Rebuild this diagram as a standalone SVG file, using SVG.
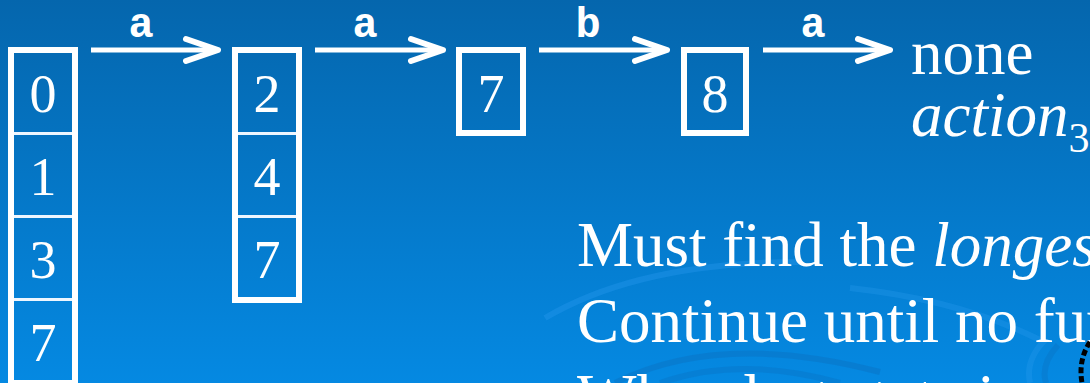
<svg xmlns="http://www.w3.org/2000/svg" width="1090" height="383" viewBox="0 0 1090 383">
<defs>
<linearGradient id="bg" x1="0" y1="0" x2="0" y2="1">
<stop offset="0" stop-color="#0566ad"/>
<stop offset="1" stop-color="#0589e2"/>
</linearGradient>
<marker id="ah" viewBox="0 0 40 30" refX="36" refY="15" markerWidth="40" markerHeight="30" markerUnits="userSpaceOnUse" orient="auto">
<polyline points="4,4 36,15 4,26" fill="none" stroke="#fff" stroke-width="6" stroke-linecap="round" stroke-linejoin="round"/>
</marker>
</defs>
<style>
.box{fill:none;stroke:#fff;stroke-width:6}
.div{stroke:#eef6ff;stroke-width:3}
.num{font-family:"Liberation Serif","Times New Roman",serif;font-size:54px;fill:#fff;text-anchor:middle}
.lbl{font-family:"Liberation Mono","Courier New",monospace;font-weight:bold;font-size:42px;fill:#fff;text-anchor:middle}
.edge{stroke:#fff;stroke-width:5;fill:none;marker-end:url(#ah)}
.txt{font-family:"Liberation Serif","Times New Roman",serif;font-size:63px;fill:#fff}
.arc{fill:none;stroke-width:6}
</style>
<rect width="1090" height="383" fill="url(#bg)"/>
<g id="decor">
<path class="arc" d="M 545 318 Q 640 262 800 262" stroke="#2a9af0" stroke-opacity="0.35"/>
<path class="arc" d="M 850 288 Q 960 300 1040 340" stroke="#2a9af0" stroke-opacity="0.3"/>
<path class="arc" d="M 615 383 Q 720 330 880 372" stroke="#0a70c0" stroke-opacity="0.45"/>
<path class="arc" d="M 660 383 Q 740 355 840 383" stroke="#0a70c0" stroke-opacity="0.35"/>
<path class="arc" d="M 1030 383 Q 1025 360 1045 340" stroke="#2a9af0" stroke-opacity="0.3"/>
<path class="arc" d="M 1046 383 Q 1040 365 1058 345" stroke="#0a70c0" stroke-opacity="0.35"/>
</g>
<g id="connectors">
<line class="edge" x1="91" y1="50" x2="218" y2="50"/>
<line class="edge" x1="315" y1="50" x2="443" y2="50"/>
<line class="edge" x1="539" y1="50" x2="667" y2="50"/>
<line class="edge" x1="763" y1="50" x2="890" y2="50"/>
<text class="lbl" x="141" y="37">a</text>
<text class="lbl" x="365" y="37">a</text>
<text class="lbl" x="588" y="37">b</text>
<text class="lbl" x="813" y="37">a</text>
</g>
<g id="node-0137">
<rect class="box" x="11" y="50" width="64" height="333"/>
<line class="div" x1="14" y1="133.5" x2="72" y2="133.5"/>
<line class="div" x1="14" y1="216.5" x2="72" y2="216.5"/>
<line class="div" x1="14" y1="299.5" x2="72" y2="299.5"/>
<text class="num" x="43" y="112">0</text>
<text class="num" x="43" y="195">1</text>
<text class="num" x="43" y="278">3</text>
<text class="num" x="43" y="361">7</text>
</g>
<g id="node-247">
<rect class="box" x="235" y="50" width="64" height="250"/>
<line class="div" x1="238" y1="133.5" x2="296" y2="133.5"/>
<line class="div" x1="238" y1="216.5" x2="296" y2="216.5"/>
<text class="num" x="267" y="112">2</text>
<text class="num" x="267" y="195">4</text>
<text class="num" x="267" y="278">7</text>
</g>
<g id="node-7">
<rect class="box" x="459" y="50" width="64" height="83"/>
<text class="num" x="491" y="112">7</text>
</g>
<g id="node-8">
<rect class="box" x="684" y="50" width="62" height="83"/>
<text class="num" x="715" y="112">8</text>
</g>
<g id="result">
<text class="txt" x="911" y="74">none</text>
<text class="txt" x="911" y="136"><tspan font-style="italic">action</tspan><tspan font-size="42" dy="16">3</tspan></text>
</g>
<g id="notes">
<text class="txt" x="577" y="266">Must find the <tspan font-style="italic">longest</tspan> match</text>
<text class="txt" x="577" y="342">Continue until no further moves</text>
<text class="txt" x="577" y="418">When last state is accepting</text>
</g>
<path d="M 1090 342 Q 1078 360 1082 383" fill="none" stroke="#000" stroke-width="5" stroke-dasharray="6 3"/>
</svg>
